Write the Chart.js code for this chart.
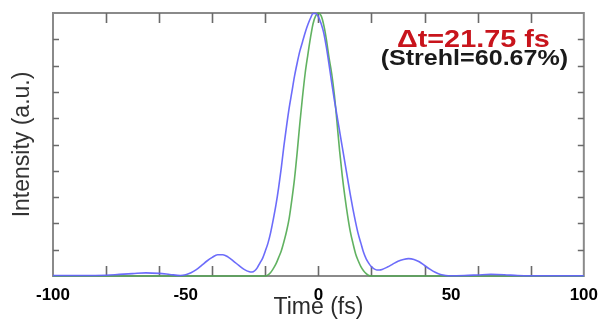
<!DOCTYPE html>
<html>
<head>
<meta charset="utf-8">
<script src="https://cdn.jsdelivr.net/npm/chart.js@4"></script>
<style>
  html, body { margin: 0; padding: 0; background: #ffffff; }
  #wrap { width: 607px; height: 325px; }
</style>
</head>
<body>
<div id="wrap"><canvas id="c" width="607" height="325"></canvas></div>
<script>
// Time axis (fs)
const time = [
  -100,-90,-80,-75,-70,-65,-60,-56,-52,
  -50,-48,-46,-44,-42,-40,-38,-36,-34,-32,-30,-28,-26,-25,
  -24,-23,-22,-21,-20,-19,-18,-17,-16,-15,-14,-13,
  -12,-11,-10,-9,-8,-7,-6,-5,-4,-3,-2,-1,
  0,1,2,3,4,5,6,7,8,9,10,11,
  12,13,14,15,16,17,18,19,20,21,22,23,
  24,26,28,30,32,34,36,38,40,42,44,46,48,50,
  55,60,65,70,75,80,90,100
];
// Measured pulse (blue)
const measured = [
  0.002,0.002,0.003,0.006,0.009,0.012,0.010,0.006,0.002,
  0.005,0.012,0.024,0.040,0.057,0.071,0.081,0.081,0.072,0.057,0.040,0.025,0.016,0.015,
  0.020,0.032,0.050,0.068,0.095,0.125,0.165,0.215,0.270,0.335,0.410,0.495,
  0.570,0.640,0.700,0.760,0.810,0.855,0.890,0.925,0.955,0.980,0.998,0.998,
  0.985,0.960,0.925,0.870,0.805,0.735,0.670,0.610,0.550,0.490,0.430,0.370,
  0.310,0.255,0.205,0.160,0.125,0.090,0.065,0.048,0.035,0.027,0.023,0.023,
  0.025,0.034,0.045,0.056,0.063,0.066,0.063,0.054,0.040,0.026,0.014,0.006,0.002,0.001,
  0.002,0.004,0.006,0.005,0.002,0.001,0.001,0.001
];
// Transform-limited pulse (green)
const limited = [
  0,0,0,0,0,0,0,0,0,
  0,0,0,0,0,0,0,0,0,0,0,0,0,0,
  0,0,0,0,0,0.004,0.013,0.028,0.046,0.070,0.095,0.130,
  0.170,0.220,0.290,0.370,0.470,0.580,0.680,0.770,0.840,0.905,0.960,0.990,
  1.000,0.990,0.955,0.900,0.830,0.770,0.690,0.585,0.475,0.380,0.300,0.230,
  0.170,0.125,0.085,0.058,0.036,0.020,0.009,0.002,0,0,0,0,
  0,0,0,0,0,0,0,0,0,0,0,0,0,0,
  0,0,0,0,0,0,0,0
];
const xTickMarks = [-80,-60,-40,-20,0,20,40,60,80];
const yTickMarks = [0.1,0.2,0.3,0.4,0.5,0.6,0.7,0.8,0.9];
const xLabelStep = 50;
const annotation1 = 'Δt=21.75 fs';
const annotation2 = '(Strehl=60.67%)';

const framePlugin = {
  id: 'frame',
  beforeDatasetsDraw(chart) {
    const { ctx, chartArea: { left, right, top, bottom }, scales: { x, y } } = chart;
    ctx.save();
    ctx.strokeStyle = '#8a8a8a';
    ctx.lineWidth = 2;
    ctx.strokeRect(left, top, right - left, bottom - top);
    ctx.strokeStyle = '#6a6a6a';
    ctx.lineWidth = 1.6;
    ctx.beginPath();
    xTickMarks.forEach(v => {
      const px = Math.round(x.getPixelForValue(v)) + 0.5;
      ctx.moveTo(px, bottom); ctx.lineTo(px, bottom - 10);
      ctx.moveTo(px, top); ctx.lineTo(px, top + 10);
    });
    yTickMarks.forEach(v => {
      const py = Math.round(y.getPixelForValue(v)) + 0.5;
      ctx.moveTo(left, py); ctx.lineTo(left + 6, py);
      ctx.moveTo(right, py); ctx.lineTo(right - 6, py);
    });
    ctx.stroke();
    ctx.restore();
  },
  afterDatasetsDraw(chart) {
    const { ctx, scales: { x, y } } = chart;
    const cx = x.getPixelForValue(58.4);
    ctx.save();
    ctx.textAlign = 'center';
    ctx.textBaseline = 'alphabetic';
    ctx.translate(cx, 47);
    ctx.scale(1.2, 1);
    ctx.font = 'bold 24px "Liberation Sans", Arial, sans-serif';
    ctx.fillStyle = '#c8141c';
    ctx.fillText(annotation1, 0, 0);
    ctx.restore();
    ctx.save();
    ctx.textAlign = 'center';
    ctx.textBaseline = 'alphabetic';
    ctx.translate(cx + 1, 65);
    ctx.scale(1.14, 1);
    ctx.font = 'bold 22px "Liberation Sans", Arial, sans-serif';
    ctx.fillStyle = '#1a1a1a';
    ctx.fillText(annotation2, 0, 0);
    ctx.restore();
  }
};

new Chart(document.getElementById('c'), {
  type: 'line',
  data: {
    datasets: [
      {
        label: 'Measured',
        data: time.map((t, i) => ({ x: t, y: measured[i] })),
        borderColor: 'rgba(100,100,250,0.95)',
        borderWidth: 1.6,
        pointRadius: 0,
        cubicInterpolationMode: 'monotone',
        clip: false
      },
      {
        label: 'Transform limited',
        data: time.map((t, i) => ({ x: t, y: limited[i] })),
        borderColor: 'rgba(80,170,80,0.9)',
        borderWidth: 1.6,
        pointRadius: 0,
        cubicInterpolationMode: 'monotone',
        clip: false
      }
    ]
  },
  options: {
    responsive: false,
    animation: false,
    devicePixelRatio: 1,
    layout: { padding: { left: 0, right: 19, top: 13, bottom: 0 } },
    plugins: { legend: { display: false }, tooltip: { enabled: false } },
    scales: {
      x: {
        type: 'linear',
        min: -100, max: 100,
        grid: { display: false, drawTicks: false },
        border: { display: false },
        ticks: {
          stepSize: xLabelStep,
          autoSkip: false,
          maxRotation: 0,
          padding: 9,
          color: '#000000',
          font: { family: '"Liberation Sans", Arial, sans-serif', size: 17, weight: 'bold' }
        },
        title: {
          display: true,
          text: 'Time (fs)',
          color: '#2a2a2a',
          padding: { top: 0, bottom: 4 },
          font: { family: '"Liberation Sans", Arial, sans-serif', size: 23 }
        },
        afterFit(s) { s.height = 49; }
      },
      y: {
        type: 'linear',
        min: 0, max: 1,
        grid: { display: false, drawTicks: false },
        border: { display: false },
        ticks: { display: false },
        title: {
          display: true,
          text: 'Intensity (a.u.)',
          color: '#333333',
          padding: { top: 9, bottom: 0 },
          font: { family: '"Liberation Sans", Arial, sans-serif', size: 23 }
        },
        afterFit(s) { s.width = 53; }
      }
    }
  },
  plugins: [framePlugin]
});
</script>
</body>
</html>
